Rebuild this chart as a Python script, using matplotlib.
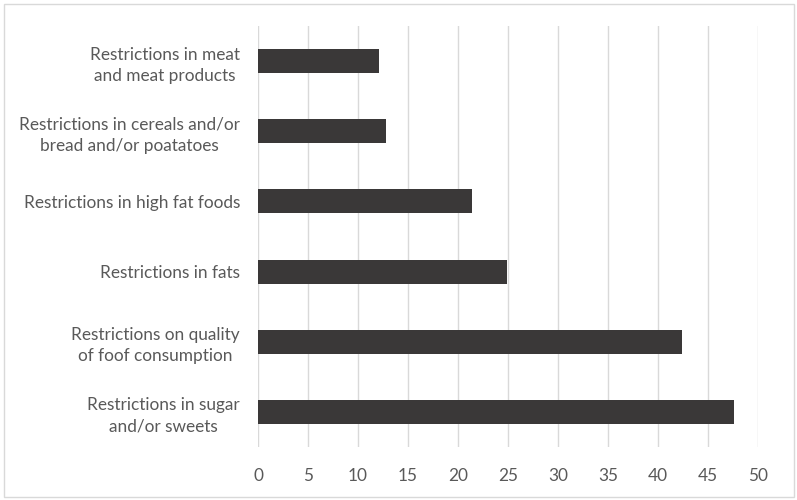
import matplotlib.pyplot as plt
import numpy as np

categories = [
    'Restrictions in sugar\nand/or sweets',
    'Restrictions on quality\nof foof consumption',
    'Restrictions in fats',
    'Restrictions in high fat foods',
    'Restrictions in cereals and/or\nbread and/or poatatoes',
    'Restrictions in meat\nand meat products',
]
values = [47.6, 42.4, 24.9, 21.4, 12.8, 12.1]
xticks = [0, 5, 10, 15, 20, 25, 30, 35, 40, 45, 50]

plt.rcParams['font.family'] = ['Lato', 'DejaVu Sans']

fig = plt.figure(figsize=(7.97, 5.0), dpi=100)
ax = fig.add_axes([258 / 797, 1 - 447 / 500, 500 / 797, 421 / 500])

y = np.arange(len(categories))
ax.barh(y, values, height=0.34, color='#3a3838', zorder=3)

ax.set_xlim(0, 50)
ax.set_ylim(-0.5, len(categories) - 0.5)
ax.set_xticks(xticks)
ax.set_yticks(y)
ax.set_yticklabels(categories, multialignment='center', linespacing=1.4)
ax.grid(axis='x', color='#d9d9d9', linewidth=1, zorder=0)
for s in ax.spines.values():
    s.set_visible(False)
ax.tick_params(axis='both', length=0, colors='#595959', labelsize=12.4)
ax.tick_params(axis='y', pad=13)
ax.tick_params(axis='x', pad=15)

border = plt.Rectangle((4 / 797, 3 / 500), 790 / 797, 493 / 500, transform=fig.transFigure,
                       fill=False, edgecolor='#d9d9d9', linewidth=1)
fig.patches.append(border)

fig.savefig('out.png', dpi=100)
